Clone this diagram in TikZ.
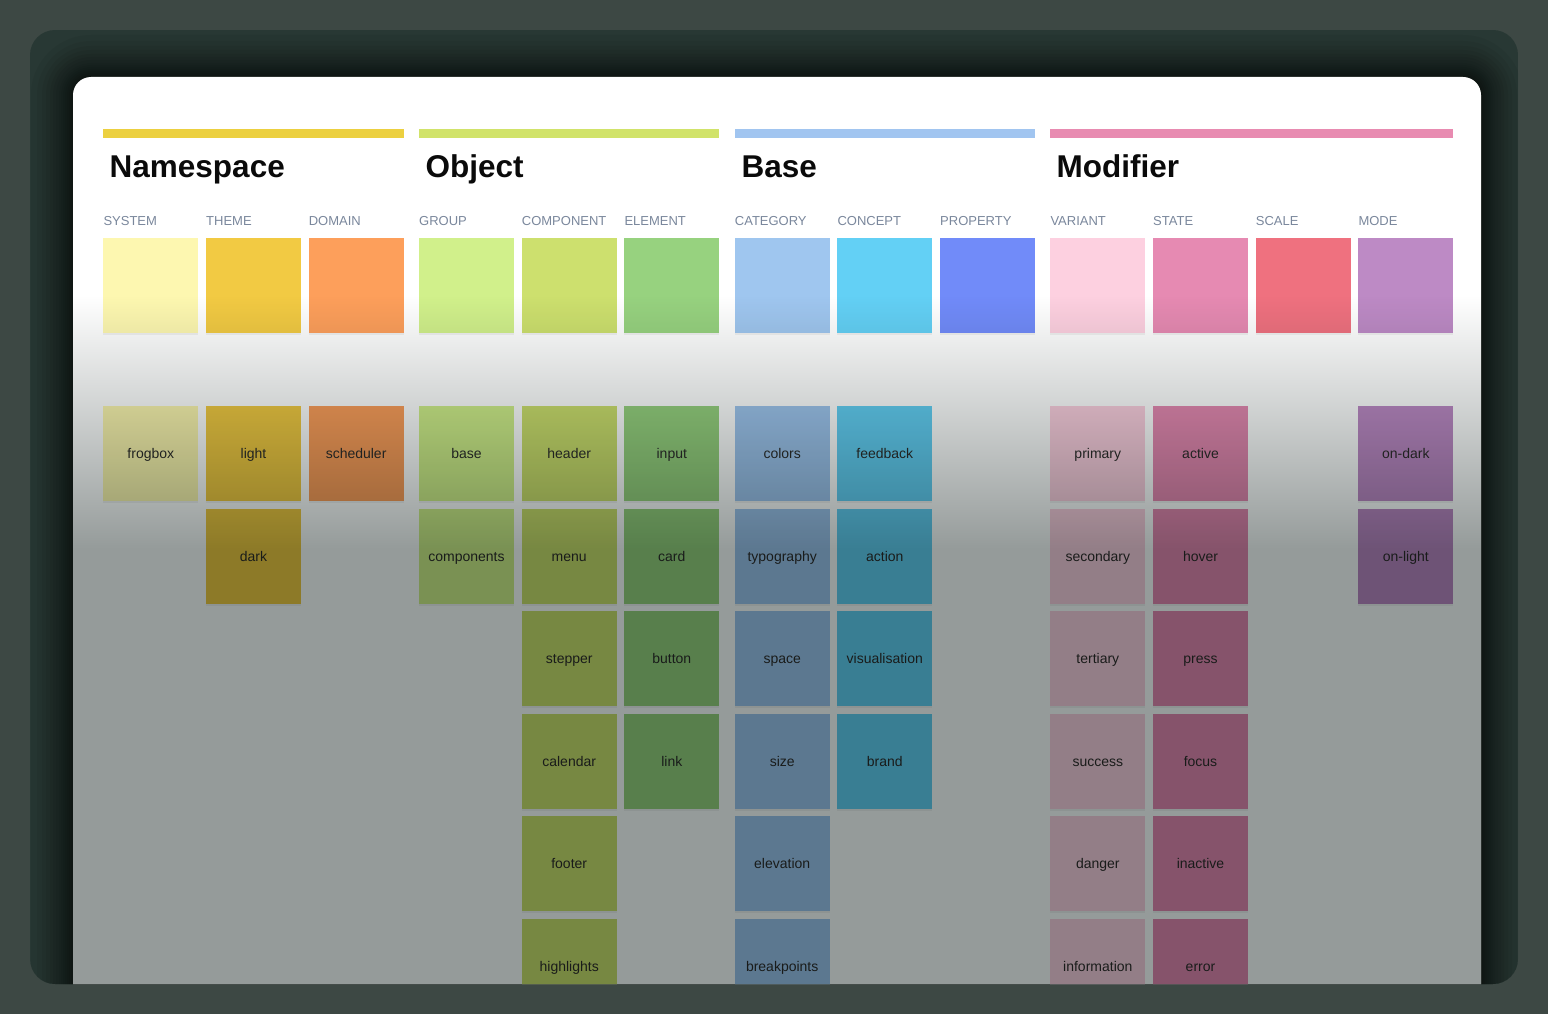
\documentclass[tikz,border=0pt]{standalone}
\usepackage{fontspec}
\setmainfont{Liberation Sans}
\usetikzlibrary{shadows}

\definecolor{bg}{RGB}{61,72,68}
\definecolor{panel}{RGB}{40,56,52}
\definecolor{ov}{RGB}{149,155,154}
\definecolor{subc}{RGB}{122,135,156}
\definecolor{lblc}{RGB}{44,46,44}
\definecolor{titc}{RGB}{10,10,10}
% bars
\definecolor{barA}{RGB}{236,208,64}
\definecolor{barB}{RGB}{209,227,106}
\definecolor{barC}{RGB}{161,197,240}
\definecolor{barD}{RGB}{232,139,177}
% columns
\definecolor{cSys}{RGB}{253,247,176}
\definecolor{cThe}{RGB}{242,202,67}
\definecolor{cDom}{RGB}{253,159,91}
\definecolor{cGrp}{RGB}{209,240,139}
\definecolor{cCmp}{RGB}{205,224,110}
\definecolor{cElm}{RGB}{151,210,127}
\definecolor{cCat}{RGB}{159,198,239}
\definecolor{cCon}{RGB}{99,208,245}
\definecolor{cPrp}{RGB}{113,139,249}
\definecolor{cVar}{RGB}{253,208,224}
\definecolor{cSta}{RGB}{230,138,178}
\definecolor{cScl}{RGB}{239,113,127}
\definecolor{cMod}{RGB}{189,138,197}

\pgfdeclareverticalshading{ovfade}{100bp}{color(0bp)=(ov); color(56.6bp)=(ov); color(75bp)=(white); color(100bp)=(white)}

\tikzset{
  titl/.style={anchor=base west, inner sep=0pt, font=\fontsize{31.5}{36}\selectfont\bfseries, text=titc},
  subh/.style={anchor=base west, inner sep=0pt, font=\fontsize{13}{15}\selectfont, text=subc},
  sqbox/.style={draw=none, minimum width=95pt, minimum height=95pt, inner sep=0pt,
     drop shadow={opacity=0.10, shadow xshift=0pt, shadow yshift=-2pt}},
  lbox/.style={sqbox, font=\fontsize{14}{16}\selectfont, text=lblc, text height=12pt, text depth=1.5pt},
}

\newcommand\colhead[4]{% x, color, subhead, name
  \node[subh] (h#4) at (#1,225.5) {#3};
  \node[sqbox, fill=#2] (t#4) at ({#1+47.5},285) {};
}
\newcommand\collist[4]{% x, color, name, labels
  \foreach \lab [count=\r] in {#4} {
    \node[lbox, fill=#2] (#3\r) at ({#1+47.5},{453.5+(\r-1)*102.5}) {\lab};
  }
}

\begin{document}
\begin{tikzpicture}[x=1pt,y=-1pt]
\useasboundingbox (0,0) rectangle (1548,1014);
\fill[bg] (0,0) rectangle (1548,1014);

\begin{scope}
  \clip[rounded corners=25pt] (30,30) rectangle (1518,984);
  \fill[panel] (30,30) rectangle (1518,984);
  \foreach \d in {2,4,6,8,10,12,14,17,20,23,27,31,36,42} {
    \fill[black, opacity=0.05, rounded corners={18pt+\d pt}] ({73-\d},{77-\d}) rectangle ({1481+\d},1100);
  }
  \fill[white, rounded corners=18pt] (73,77) rectangle (1481,1040);

  % group bars and titles
  \fill[barA] (103.3,129) rectangle (403.6,138.3);
  \fill[barB] (419,129) rectangle (719.3,138.3);
  \fill[barC] (734.7,129) rectangle (1035,138.3);
  \fill[barD] (1050.3,129) rectangle (1453.3,138.3);
  \node[titl] (tNs) at (109.5,178) {Namespace};
  \node[titl] (tOb) at (425.5,178) {Object};
  \node[titl] (tBa) at (741.5,178) {Base};
  \node[titl] (tMo) at (1056.5,178) {Modifier};

  % headers & top swatches
  \colhead{103.3}{cSys}{SYSTEM}{sys}
  \colhead{206}{cThe}{THEME}{the}
  \colhead{308.6}{cDom}{DOMAIN}{dom}
  \colhead{419}{cGrp}{GROUP}{grp}
  \colhead{521.7}{cCmp}{COMPONENT}{cmp}
  \colhead{624.3}{cElm}{ELEMENT}{elm}
  \colhead{734.7}{cCat}{CATEGORY}{cat}
  \colhead{837.3}{cCon}{CONCEPT}{con}
  \colhead{940}{cPrp}{PROPERTY}{prp}
  \colhead{1050.3}{cVar}{VARIANT}{var}
  \colhead{1153}{cSta}{STATE}{sta}
  \colhead{1255.7}{cScl}{SCALE}{scl}
  \colhead{1358.3}{cMod}{MODE}{mod}

  % token lists
  \collist{103.3}{cSys}{sys}{frogbox}
  \collist{206}{cThe}{the}{light,dark}
  \collist{308.6}{cDom}{dom}{scheduler}
  \collist{419}{cGrp}{grp}{base,components}
  \collist{521.7}{cCmp}{cmp}{header,menu,stepper,calendar,footer,highlights}
  \collist{624.3}{cElm}{elm}{input,card,button,link}
  \collist{734.7}{cCat}{cat}{colors,typography,space,size,elevation,breakpoints}
  \collist{837.3}{cCon}{con}{feedback,action,visualisation,brand}
  \collist{1050.3}{cVar}{var}{primary,secondary,tertiary,success,danger,information}
  \collist{1153}{cSta}{sta}{active,hover,press,focus,inactive,error}
  \collist{1358.3}{cMod}{mod}{on-dark,on-light}

  % darkening overlay
  \begin{scope}
    \clip (73,77) rectangle (1481,984);
    \begin{scope}[blend mode=multiply]
      \shade[shading=ovfade] (73,295) rectangle (1481,984);
    \end{scope}
  \end{scope}
\end{scope}
\end{tikzpicture}
\end{document}
